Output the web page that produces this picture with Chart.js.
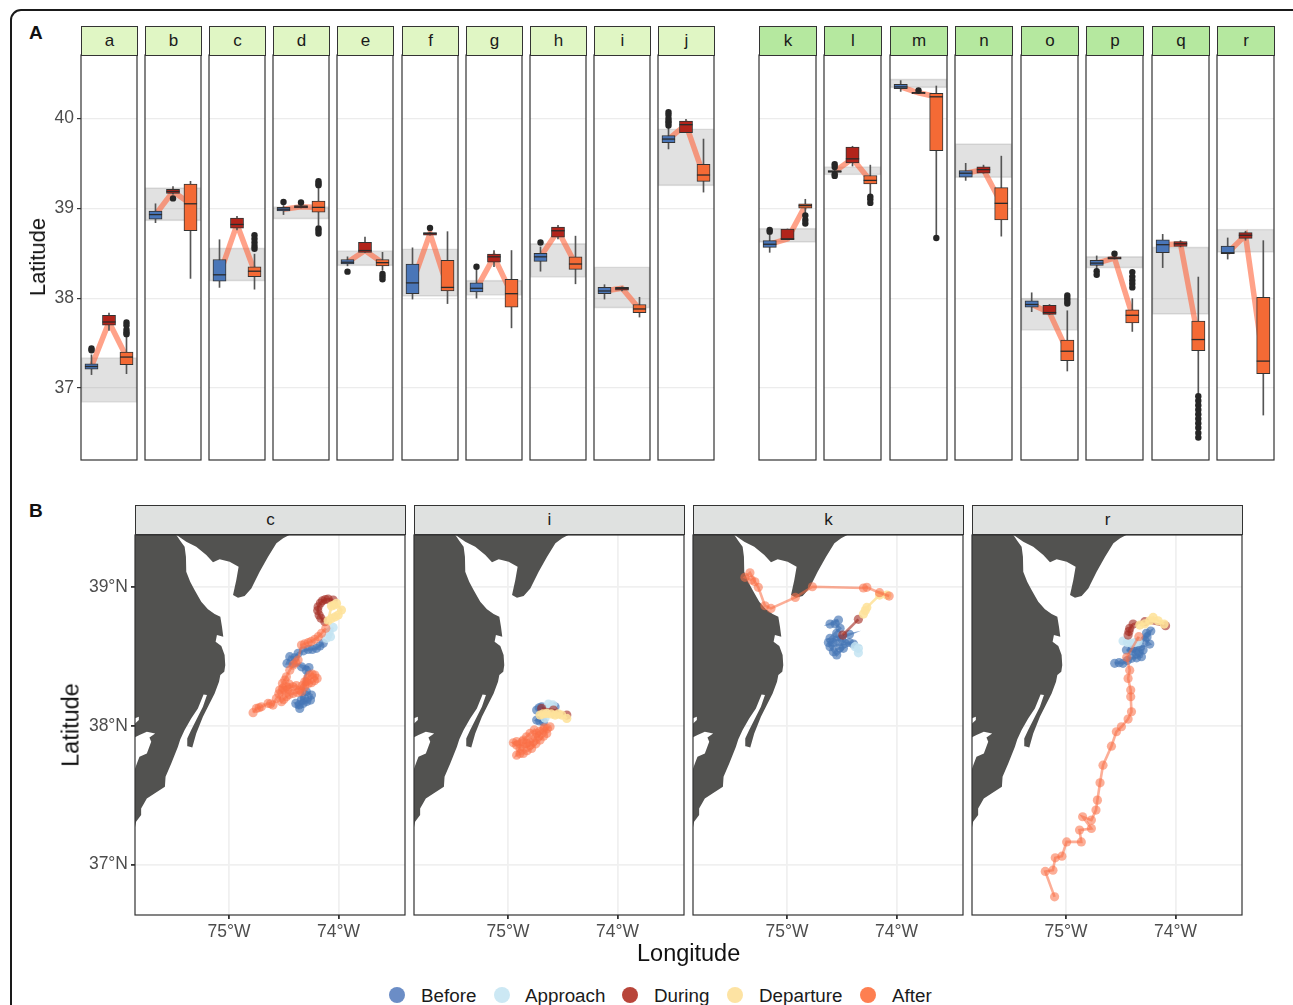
<!DOCTYPE html>
<html>
<head>
<meta charset="utf-8">
<title>Latitude by stage</title>
<script src="https://cdn.jsdelivr.net/npm/chart.js@4"></script>
<style>
  html, body { margin: 0; padding: 0; background: #fff; }
  #page { position: relative; width: 1293px; height: 1005px; overflow: hidden; font-family: "Liberation Sans", Arial, sans-serif; color: #1a1a1a; }
  #page canvas { position: absolute; }
  #outline { position: absolute; left: 10px; top: 9px; width: 1300px; height: 1100px; border: 2px solid #1a1a1a; border-radius: 11px; box-sizing: border-box; }
  .strip { position: absolute; box-sizing: border-box; border: 1.2px solid #333; text-align: center; font-size: 17px; color: #1a1a1a; line-height: 27px; }
  .tag { position: absolute; font-weight: bold; font-size: 19px; color: #111; }
  .title { position: absolute; white-space: nowrap; color: #111; }
  .rot { transform: translate(-50%, -50%) rotate(-90deg); }
  .dot { position: absolute; width: 16px; height: 16px; border-radius: 50%; }
  .key { position: absolute; font-size: 18.8px; line-height: 20px; white-space: nowrap; color: #1a1a1a; }
</style>
</head>
<body>
<div id="page"><div id="outline"></div></div>
<script>
// top row: one entry per panel, [whisker low, q1, median, q3, whisker high]
var panelsLeft = ['a', 'b', 'c', 'd', 'e', 'f', 'g', 'h', 'i', 'j'];
var panelsRight = ['k', 'l', 'm', 'n', 'o', 'p', 'q', 'r'];

var beforeStats = [
  [37.15, 37.21, 37.24, 37.27, 37.37], [38.84, 38.88, 38.93, 38.97, 39.05], [38.12, 38.19, 38.26, 38.43, 38.65],
  [38.93, 38.97, 38.99, 39.01, 39.03], [38.36, 38.38, 38.40, 38.43, 38.46], [37.99, 38.05, 38.17, 38.38, 38.56],
  [38.00, 38.07, 38.11, 38.17, 38.32], [38.30, 38.41, 38.46, 38.50, 38.57], [37.99, 38.05, 38.08, 38.12, 38.15],
  [39.66, 39.73, 39.77, 39.81, 39.89], [38.51, 38.565, 38.60, 38.64, 38.71], [39.38, 39.40, 39.41, 39.42, 39.44],
  [40.30, 40.33, 40.35, 40.38, 40.42], [39.31, 39.345, 39.39, 39.42, 39.50], [37.85, 37.90, 37.93, 37.97, 38.06],
  [38.33, 38.365, 38.39, 38.42, 38.47], [38.34, 38.505, 38.595, 38.65, 38.71], [38.435, 38.495, 38.505, 38.58, 38.67]
];
var duringStats = [
  [37.64, 37.70, 37.735, 37.81, 37.835], [39.157, 39.165, 39.187, 39.21, 39.24], [38.76, 38.78, 38.82, 38.89, 38.91],
  [39.005, 39.005, 39.016, 39.03, 39.03], [38.51, 38.51, 38.53, 38.62, 38.68], [38.70, 38.70, 38.72, 38.73, 38.73],
  [38.35, 38.40, 38.46, 38.49, 38.53], [38.66, 38.68, 38.75, 38.79, 38.81], [38.08, 38.09, 38.11, 38.12, 38.125],
  [39.84, 39.84, 39.93, 39.97, 39.99], [38.65, 38.65, 38.66, 38.77, 38.77], [39.47, 39.505, 39.55, 39.68, 39.69],
  [40.275, 40.275, 40.285, 40.29, 40.29], [39.39, 39.39, 39.43, 39.46, 39.48], [37.82, 37.82, 37.84, 37.92, 37.93],
  [38.435, 38.435, 38.445, 38.46, 38.46], [38.57, 38.575, 38.605, 38.63, 38.64], [38.645, 38.665, 38.70, 38.73, 38.745]
];
var afterStats = [
  [37.16, 37.26, 37.345, 37.40, 37.60], [38.22, 38.75, 39.05, 39.27, 39.30], [38.10, 38.24, 38.30, 38.35, 38.49],
  [38.81, 38.957, 39.01, 39.08, 39.22], [38.31, 38.36, 38.395, 38.43, 38.51], [37.94, 38.08, 38.12, 38.42, 38.74],
  [37.67, 37.90, 38.05, 38.21, 38.53], [38.16, 38.32, 38.38, 38.46, 38.69], [37.79, 37.84, 37.88, 37.93, 38.01],
  [39.18, 39.30, 39.37, 39.49, 39.77], [38.94, 39.00, 39.03, 39.05, 39.10], [39.145, 39.27, 39.31, 39.365, 39.48],
  [38.68, 39.64, 40.24, 40.28, 40.36], [38.69, 38.87, 39.055, 39.23, 39.58], [37.19, 37.305, 37.41, 37.535, 37.86],
  [37.63, 37.725, 37.81, 37.87, 37.995], [36.94, 37.415, 37.54, 37.745, 38.235], [36.70, 37.16, 37.30, 38.01, 38.64]
];
var beforeOut = [
  [37.44, 37.42], [], [], [39.07], [38.295], [], [38.35], [38.62], [], [40.07, 40.04, 40.0, 39.97, 39.95, 39.92],
  [38.76, 38.74], [39.49, 39.46, 39.38, 39.36], [], [], [], [38.30, 38.26], [], []
];
var duringOut = [
  [], [39.11], [], [39.065], [], [38.78], [], [], [], [],
  [], [], [40.31], [], [], [38.495], [], []
];
var afterOut = [
  [37.73, 37.70, 37.65, 37.62, 37.60], [], [38.70, 38.66, 38.62, 38.58, 38.55], [39.30, 39.276, 39.257, 38.775, 38.75, 38.72],
  [38.27, 38.24, 38.21], [], [], [], [], [],
  [38.92, 38.87, 38.83], [39.13, 39.10, 39.06], [38.67], [], [38.03, 38.0, 37.97, 37.94],
  [38.29, 38.24, 38.20, 38.16, 38.12], [36.91, 36.86, 36.81, 36.76, 36.71, 36.66, 36.61, 36.56, 36.50, 36.45], []
];
var bandLow = [36.84, 38.86, 38.19, 38.88, 38.36, 38.02, 38.03, 38.23, 37.89, 39.25, 38.62, 39.37, 40.34, 39.34, 37.64, 38.335, 37.82, 38.51];
var bandHigh = [37.34, 39.23, 38.56, 39.02, 38.53, 38.55, 38.20, 38.61, 38.35, 39.885, 38.78, 39.465, 40.44, 39.72, 38.0, 38.465, 38.57, 38.77];

// bottom row: coastline as lon/lat
var mainland = [
  [-75.863, 39.377], [-75.482, 39.377], [-75.445, 39.334], [-75.405, 39.291], [-75.393, 39.219], [-75.390, 39.111],
  [-75.354, 39.038], [-75.314, 38.978], [-75.253, 38.894], [-75.192, 38.839], [-75.131, 38.805], [-75.079, 38.786],
  [-75.064, 38.714], [-75.052, 38.642], [-75.110, 38.654], [-75.122, 38.606], [-75.070, 38.575], [-75.040, 38.510],
  [-75.034, 38.437], [-75.043, 38.389], [-75.079, 38.365], [-75.091, 38.317], [-75.131, 38.233], [-75.177, 38.161],
  [-75.238, 38.065], [-75.299, 37.945], [-75.335, 37.844], [-75.375, 37.853], [-75.381, 37.909], [-75.345, 37.969],
  [-75.284, 38.065], [-75.238, 38.137], [-75.201, 38.221], [-75.232, 38.226], [-75.284, 38.125], [-75.345, 38.053],
  [-75.405, 37.969], [-75.445, 37.901], [-75.466, 37.849], [-75.527, 37.728], [-75.579, 37.632], [-75.585, 37.560],
  [-75.680, 37.512], [-75.750, 37.476], [-75.802, 37.404], [-75.802, 37.356], [-75.848, 37.308], [-75.863, 37.248],
  [-75.863, 37.680], [-75.841, 37.728], [-75.817, 37.776], [-75.750, 37.800], [-75.710, 37.885], [-75.726, 37.916],
  [-75.674, 37.945], [-75.750, 37.957], [-75.817, 37.933], [-75.863, 37.916], [-75.863, 38.012], [-75.823, 38.041],
  [-75.823, 38.065], [-75.863, 38.053]
];
var capeMay = [
  [-75.482, 39.377], [-75.390, 39.327], [-75.299, 39.291], [-75.207, 39.231], [-75.146, 39.178], [-75.085, 39.200],
  [-74.994, 39.183], [-74.912, 39.147], [-74.933, 39.050], [-74.963, 38.942], [-74.918, 38.923], [-74.857, 38.935],
  [-74.796, 38.990], [-74.720, 39.111], [-74.643, 39.219], [-74.567, 39.315], [-74.506, 39.351], [-74.445, 39.377]
];

var stages = ['Before', 'Approach', 'During', 'Departure', 'After'];
var mapPanels = ['c', 'i', 'k', 'r'];

var cBefore = [[-74.354, 38.125], [-74.390, 38.161], [-74.323, 38.161], [-74.360, 38.150], [-74.290, 38.175], [-74.256, 38.185], [-74.247, 38.221], [-74.293, 38.245], [-74.310, 38.200], [-74.340, 38.185], [-74.293, 38.401], [-74.338, 38.425], [-74.270, 38.420], [-74.415, 38.449], [-74.470, 38.449], [-74.445, 38.498], [-74.400, 38.490], [-74.369, 38.522], [-74.320, 38.540], [-74.277, 38.550], [-74.240, 38.550], [-74.201, 38.558], [-74.140, 38.594], [-74.170, 38.575]];
var cApproach = [[-74.110, 38.630], [-74.073, 38.642], [-74.085, 38.675], [-74.049, 38.709]];
var cDuring = [[-74.125, 38.750], [-74.160, 38.775], [-74.177, 38.798], [-74.190, 38.830], [-74.186, 38.858], [-74.165, 38.885], [-74.146, 38.901], [-74.120, 38.910], [-74.095, 38.913], [-74.049, 38.906]];
var cDeparture = [[-74.018, 38.882], [-73.973, 38.834], [-74.003, 38.798], [-74.030, 38.785], [-74.064, 38.774], [-74.095, 38.757], [-74.064, 38.863], [-74.040, 38.870]];
var cAfter = [[-74.116, 38.702], [-74.155, 38.666], [-74.185, 38.642], [-74.216, 38.623], [-74.250, 38.608], [-74.277, 38.599], [-74.310, 38.590], [-74.338, 38.582], [-74.369, 38.474], [-74.390, 38.455], [-74.415, 38.437], [-74.445, 38.401], [-74.476, 38.353], [-74.490, 38.330], [-74.512, 38.305], [-74.537, 38.257], [-74.510, 38.270], [-74.476, 38.281], [-74.450, 38.300], [-74.415, 38.281], [-74.385, 38.290], [-74.354, 38.257], [-74.330, 38.290], [-74.308, 38.317], [-74.285, 38.340], [-74.262, 38.365], [-74.240, 38.372], [-74.216, 38.365], [-74.195, 38.341], [-74.220, 38.325], [-74.247, 38.310], [-74.275, 38.305], [-74.293, 38.317], [-74.310, 38.280], [-74.338, 38.245], [-74.375, 38.240], [-74.415, 38.233], [-74.450, 38.225], [-74.476, 38.209], [-74.500, 38.190], [-74.521, 38.173], [-74.545, 38.230], [-74.490, 38.255], [-74.460, 38.265], [-74.567, 38.197], [-74.598, 38.149], [-74.620, 38.158], [-74.643, 38.161], [-74.704, 38.137], [-74.725, 38.130], [-74.750, 38.125], [-74.780, 38.094]];

var iBefore = [[-74.738, 38.113], [-74.715, 38.130], [-74.692, 38.137], [-74.570, 38.137], [-74.738, 38.041], [-74.677, 38.029], [-74.710, 38.035]];
var iApproach = [[-74.631, 38.156], [-74.590, 38.150], [-74.610, 38.135], [-74.662, 38.055]];
var iDuring = [[-74.692, 38.125], [-74.585, 38.113], [-74.463, 38.077]];
var iDeparture = [[-74.707, 38.077], [-74.680, 38.085], [-74.646, 38.089], [-74.605, 38.085], [-74.570, 38.077], [-74.540, 38.085], [-74.509, 38.077], [-74.463, 38.053]];
var iAfter = [[-74.616, 37.993], [-74.640, 37.980], [-74.677, 37.969], [-74.710, 37.960], [-74.738, 37.945], [-74.750, 37.915], [-74.768, 37.885], [-74.800, 37.880], [-74.829, 37.873], [-74.870, 37.885], [-74.951, 37.877], [-74.920, 37.860], [-74.890, 37.837], [-74.921, 37.788], [-74.890, 37.800], [-74.860, 37.800], [-74.825, 37.820], [-74.784, 37.837], [-74.745, 37.870], [-74.707, 37.897], [-74.675, 37.925], [-74.646, 37.945], [-74.670, 37.985], [-74.720, 37.925], [-74.760, 37.970], [-74.799, 37.945], [-74.830, 37.920], [-74.860, 37.897], [-74.921, 37.885], [-74.860, 37.845], [-74.800, 37.860]];

var kBefore = [[-74.530, 38.762], [-74.607, 38.733], [-74.560, 38.735], [-74.515, 38.702], [-74.607, 38.630], [-74.430, 38.659], [-74.546, 38.618], [-74.500, 38.625], [-74.470, 38.594], [-74.393, 38.589], [-74.430, 38.600], [-74.607, 38.570], [-74.546, 38.510], [-74.485, 38.558], [-74.520, 38.560], [-74.576, 38.534], [-74.622, 38.600], [-74.580, 38.600], [-74.546, 38.666]];
var kApproach = [[-74.378, 38.570], [-74.348, 38.558], [-74.348, 38.526]];
var kDuring = [[-74.348, 38.767], [-74.491, 38.654]];
var kDeparture = [[-74.088, 38.942], [-74.155, 38.942], [-74.271, 38.853], [-74.285, 38.830], [-74.302, 38.805]];
var kAfter = [[-74.067, 38.935], [-74.155, 38.959], [-74.271, 38.998], [-74.302, 38.993], [-74.768, 39.002], [-74.924, 38.925], [-75.146, 38.846], [-75.201, 38.865], [-75.262, 38.998], [-75.293, 39.038], [-75.338, 39.103], [-75.384, 39.070], [-75.323, 39.050]];

var rBefore = [[-74.555, 38.450], [-74.515, 38.455], [-74.479, 38.450], [-74.440, 38.470], [-74.402, 38.486], [-74.355, 38.490], [-74.311, 38.498], [-74.296, 38.546], [-74.340, 38.530], [-74.448, 38.546], [-74.400, 38.545], [-74.235, 38.589], [-74.280, 38.618], [-74.260, 38.640], [-74.226, 38.683], [-74.265, 38.666], [-74.360, 38.520], [-74.390, 38.560], [-74.320, 38.570]];
var rApproach = [[-74.479, 38.611], [-74.440, 38.600], [-74.402, 38.594], [-74.370, 38.600], [-74.341, 38.606]];
var rDuring = [[-74.433, 38.654], [-74.425, 38.680], [-74.418, 38.702], [-74.387, 38.733], [-74.280, 38.750], [-74.091, 38.721]];
var rDeparture = [[-74.326, 38.726], [-74.280, 38.735], [-74.235, 38.757], [-74.204, 38.781], [-74.159, 38.757], [-74.104, 38.733]];
var rAfter = [[-74.335, 38.642], [-74.445, 38.493], [-74.418, 38.401], [-74.433, 38.341], [-74.409, 38.257], [-74.409, 38.209], [-74.402, 38.101], [-74.433, 38.048], [-74.494, 37.993], [-74.540, 37.957], [-74.585, 37.853], [-74.662, 37.716], [-74.689, 37.589], [-74.713, 37.464], [-74.726, 37.392], [-74.768, 37.320], [-74.848, 37.344], [-74.768, 37.260], [-74.876, 37.248], [-74.860, 37.163], [-74.994, 37.163], [-75.037, 37.060], [-75.098, 37.048], [-75.119, 36.959], [-75.189, 36.950], [-75.104, 36.767]];

var mapTracks = [
  [cBefore, cApproach, cDuring, cDeparture, cAfter],
  [iBefore, iApproach, iDuring, iDeparture, iAfter],
  [kBefore, kApproach, kDuring, kDeparture, kAfter],
  [rBefore, rApproach, rDuring, rDeparture, rAfter]
];

var boxColors = ['#4a76b8', '#b2241b', '#f46a35'];
var stageColors = ['rgba(69,117,180,0.66)', 'rgba(196,228,242,0.85)', 'rgba(165,45,35,0.62)', 'rgba(254,226,155,0.88)', 'rgba(250,110,70,0.56)'];
var legendColors = ['#6b8dc6', '#cce8f4', '#b8453a', '#fde3a3', '#fe7f51'];

Chart.defaults.font.family = '"Liberation Sans", Arial, sans-serif';
Chart.defaults.animation = false;

var page = document.getElementById('page');
var PAD = 3;

var panelFrame = {
  id: 'panelFrame',
  afterDraw: function(chart) {
    var a = chart.chartArea;
    var ctx = chart.ctx;
    ctx.save();
    ctx.strokeStyle = '#333';
    ctx.lineWidth = 1.2;
    ctx.strokeRect(a.left, a.top, a.right - a.left, a.bottom - a.top);
    ctx.restore();
  }
};

function addDiv(cls, text, css) {
  var d = document.createElement('div');
  d.className = cls;
  d.textContent = text;
  Object.keys(css).forEach(function(k) { d.style[k] = css[k]; });
  page.appendChild(d);
  return d;
}

function addCanvas(left, top, width, height) {
  var c = document.createElement('canvas');
  c.width = width;
  c.height = height;
  c.style.left = left + 'px';
  c.style.top = top + 'px';
  c.style.width = width + 'px';
  c.style.height = height + 'px';
  page.appendChild(c);
  return c.getContext('2d');
}

function toXY(pairs) {
  return pairs.map(function(p) { return { x: p[0], y: p[1] }; });
}

function yAxis(min, max, showLabels, axisW, gridColor, gridWidth, format) {
  return {
    type: 'linear', min: min, max: max,
    afterFit: function(scale) {
      scale.width = axisW;
      scale.paddingTop = 0;
      scale.paddingBottom = 0;
    },
    border: { display: false },
    grid: { color: gridColor, lineWidth: gridWidth, drawTicks: showLabels, tickLength: 4, tickColor: '#333' },
    ticks: {
      display: showLabels, stepSize: 1, includeBounds: false, padding: 3,
      color: '#4d4d4d', font: { size: 17.5 }, callback: format
    }
  };
}

function boxPanel(index, label, left, width, strip, showLabels) {
  var top = 55, height = 405;
  var axisW = showLabels ? 50 : 0;
  var ctx = addCanvas(left - axisW - PAD, top - PAD, width + axisW + 2 * PAD, height + 2 * PAD);
  addDiv('strip', label, { left: left + 'px', top: '26px', width: (width + 1) + 'px', height: '30px', background: strip });

  var stats = [beforeStats[index], duringStats[index], afterStats[index]];
  var outs = [beforeOut[index], duringOut[index], afterOut[index]];
  var boxW = width * 0.234;
  var outPoints = [];
  outs.forEach(function(list, k) {
    list.forEach(function(v) { outPoints.push({ x: k + 1, y: v }); });
  });

  new Chart(ctx, {
    type: 'bar',
    data: {
      datasets: [
        { type: 'bar', order: 6, grouped: false, data: [{ x: 2, y: [bandLow[index], bandHigh[index]] }], barThickness: width,
          backgroundColor: 'rgba(130,130,130,0.24)', borderColor: 'rgba(120,120,120,0.22)', borderWidth: 1, borderSkipped: false },
        { type: 'line', order: 5, data: stats.map(function(s, k) { return { x: k + 1, y: s[2] }; }),
          borderColor: 'rgba(255,105,65,0.62)', borderWidth: 5.5, pointRadius: 0, tension: 0, borderJoinStyle: 'miter' },
        { type: 'bar', order: 4, grouped: false, data: stats.map(function(s, k) { return { x: k + 1, y: [s[0], s[4]] }; }), barThickness: 1,
          backgroundColor: '#555', borderWidth: 0 },
        { type: 'bar', order: 3, grouped: false, data: stats.map(function(s, k) { return { x: k + 1, y: [s[1], s[3]] }; }), barThickness: boxW,
          backgroundColor: boxColors, borderColor: '#333', borderWidth: 1, borderSkipped: false },
        { type: 'scatter', order: 2, data: stats.map(function(s, k) { return { x: k + 1, y: s[2] }; }),
          pointStyle: 'line', pointRadius: boxW / 2, pointBorderColor: '#2b2b2b', pointBorderWidth: 1.3 },
        { type: 'scatter', order: 1, data: outPoints, pointRadius: 3.2, pointBackgroundColor: '#262626', pointBorderWidth: 0 }
      ]
    },
    options: {
      responsive: false,
      layout: { autoPadding: false, padding: { left: PAD, right: PAD, top: PAD, bottom: PAD } },
      plugins: { legend: { display: false }, tooltip: { enabled: false } },
      scales: {
        x: { type: 'linear', min: 0.4, max: 3.6, offset: false, display: false },
        y: yAxis(36.2, 40.705, showLabels, axisW, '#ececec', 1.2)
      }
    },
    plugins: [panelFrame]
  });
}

function mapPanel(index, left, showLabels) {
  var top = 535, height = 380, width = 270;
  var axisW = showLabels ? 50 : 0;
  var axisH = 32;
  var ctx = addCanvas(left - axisW - PAD, top - PAD, width + axisW + 2 * PAD, height + axisH + 2 * PAD);
  addDiv('strip', mapPanels[index], { left: left + 'px', top: '505px', width: (width + 1) + 'px', height: '30px', background: '#dfe1e0' });

  var datasets = [
    { type: 'line', order: 100, data: toXY(mainland), fill: 'shape', backgroundColor: '#525250', borderWidth: 0, pointRadius: 0, tension: 0 },
    { type: 'line', order: 99, data: toXY(capeMay), fill: 'shape', backgroundColor: '#525250', borderWidth: 0, pointRadius: 0, tension: 0 }
  ];
  mapTracks[index].forEach(function(track, k) {
    datasets.push({
      type: 'scatter', order: 50 - k, data: toXY(track), showLine: true,
      borderColor: stageColors[k], borderWidth: 2.6, pointRadius: 4.6,
      pointBackgroundColor: stageColors[k], pointBorderWidth: 0
    });
  });

  new Chart(ctx, {
    type: 'scatter',
    data: { datasets: datasets },
    options: {
      responsive: false,
      layout: { autoPadding: false, padding: { left: PAD, right: PAD, top: PAD, bottom: PAD } },
      plugins: { legend: { display: false }, tooltip: { enabled: false } },
      scales: {
        x: {
          type: 'linear', min: -75.858, max: -73.393,
          afterFit: function(scale) {
            scale.height = axisH;
            scale.paddingLeft = 0;
            scale.paddingRight = 0;
          },
          border: { display: false },
          grid: { color: '#f0f0f0', lineWidth: 1.8, tickLength: 4, tickColor: '#333' },
          ticks: {
            stepSize: 1, includeBounds: false, maxRotation: 0, autoSkip: false, padding: 3,
            color: '#4d4d4d', font: { size: 17.5 },
            callback: function(v) { return Math.abs(v) + '°W'; }
          }
        },
        y: yAxis(36.636, 39.375, showLabels, axisW, '#f0f0f0', 1.8, function(v) { return v + '°N'; })
      }
    },
    plugins: [panelFrame]
  });
}

panelsLeft.forEach(function(p, i) {
  boxPanel(i, p, Math.round(81 + 64.1 * i), 56, '#e0f6c4', i === 0);
});
panelsRight.forEach(function(p, i) {
  boxPanel(i + panelsLeft.length, p, Math.round(758.5 + 65.5 * i), 57, '#b5e89f', false);
});
[135, 414, 693, 972].forEach(function(left, i) {
  mapPanel(i, left, i === 0);
});

addDiv('tag', 'A', { left: '29px', top: '22px' });
addDiv('tag', 'B', { left: '29px', top: '500px' });
addDiv('title rot', 'Latitude', { left: '38px', top: '257px', fontSize: '22px' });
addDiv('title rot', 'Latitude', { left: '71px', top: '725px', fontSize: '23.5px' });
addDiv('title', 'Longitude', { left: '637px', top: '940px', fontSize: '23.5px' });

var dotX = [389, 494, 622, 727, 860];
var keyX = [421, 525, 654, 759, 892];
stages.forEach(function(s, i) {
  addDiv('dot', '', { left: dotX[i] + 'px', top: '987px', background: legendColors[i] });
  addDiv('key', s, { left: keyX[i] + 'px', top: '986px' });
});
</script>
</body>
</html>
